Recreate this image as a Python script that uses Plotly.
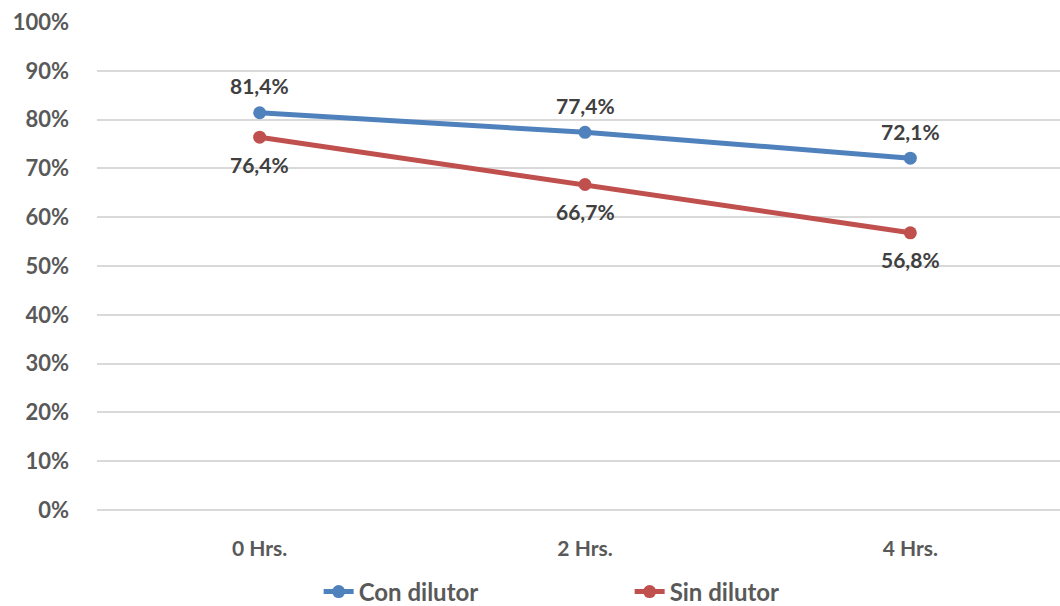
import plotly.graph_objects as go

categories = ["0 Hrs.", "2 Hrs.", "4 Hrs."]
con_dilutor = [0.814, 0.774, 0.721]
sin_dilutor = [0.764, 0.667, 0.568]
con_labels = ["81,4%", "77,4%", "72,1%"]
sin_labels = ["76,4%", "66,7%", "56,8%"]
y_ticks = [i / 10 for i in range(11)]
y_tick_labels = [f"{i*10}%" for i in range(11)]

FONT = "Lato"
BLUE = "#4F81BD"
RED = "#C0504D"
LABEL_FONT = dict(family=FONT, size=21, color="#404040", weight="bold")

fig = go.Figure()
fig.add_trace(go.Scatter(
    x=categories, y=con_dilutor, name="Con dilutor",
    mode="lines+markers",
    line=dict(color=BLUE, width=5), marker=dict(color=BLUE, size=13),
    cliponaxis=False,
))
fig.add_trace(go.Scatter(
    x=categories, y=sin_dilutor, name="Sin dilutor",
    mode="lines+markers",
    line=dict(color=RED, width=5), marker=dict(color=RED, size=13),
    cliponaxis=False,
))

for cat, val, lab in zip(categories, con_dilutor, con_labels):
    fig.add_annotation(x=cat, y=val, text=lab, showarrow=False,
                       yshift=27, font=LABEL_FONT)
for cat, val, lab in zip(categories, sin_dilutor, sin_labels):
    fig.add_annotation(x=cat, y=val, text=lab, showarrow=False,
                       yshift=-27, font=LABEL_FONT)

fig.update_layout(
    width=1060, height=606,
    margin=dict(l=97, r=0, t=22, b=96, autoexpand=False),
    paper_bgcolor="white", plot_bgcolor="white",
    font=dict(family=FONT, color="#595959"),
    xaxis=dict(
        type="category", range=[-0.5, 2.46], showgrid=False, zeroline=False,
        showline=False, ticks="", ticklabelstandoff=24, automargin=False,
        tickfont=dict(family=FONT, size=21, color="#595959", weight="bold"),
    ),
    yaxis=dict(
        range=[0, 1], tickvals=y_ticks, ticktext=y_tick_labels,
        showgrid=True, gridcolor="#D9D9D9", gridwidth=1.5,
        zeroline=True, zerolinecolor="#D9D9D9", zerolinewidth=1.5,
        showline=False, ticks="", ticklabelstandoff=27, automargin=False,
        tickfont=dict(family=FONT, size=22, color="#595959", weight="bold"),
    ),
    legend=dict(
        orientation="h", x=0.594, xanchor="center", xref="container",
        y=1 - 592 / 606, yanchor="middle", yref="container",
        entrywidth=266, entrywidthmode="pixels",
        font=dict(family=FONT, size=24, color="#595959", weight="bold"),
    ),
    showlegend=True,
)

fig.write_html(
    "out.html",
    config={"displayModeBar": False},
    post_script="document.body.style.margin='0';document.body.style.padding='0';",
)
